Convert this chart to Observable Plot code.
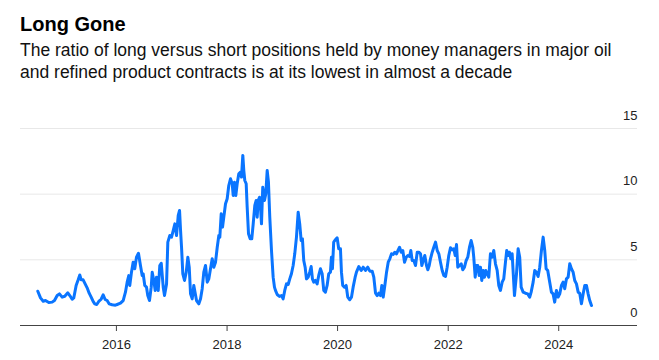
<!DOCTYPE html>
<html>
<head>
<meta charset="utf-8">
<script src="https://cdn.jsdelivr.net/npm/d3@7"></script>
<script src="https://cdn.jsdelivr.net/npm/@observablehq/plot@0.6"></script>
<style>
  html, body { margin: 0; padding: 0; background: #fff; }
  body { width: 659px; height: 360px; position: relative; overflow: hidden; font-family: "Liberation Sans", Arial, sans-serif; }
  #title { position: absolute; left: 20px; top: 13px; font-size: 20px; line-height: 22px; font-weight: bold; color: #000; }
  #subtitle { position: absolute; left: 20px; top: 40px; font-size: 17.5px; line-height: 21.5px; color: #111; white-space: nowrap; }
  #chart { position: absolute; left: 0; top: 90px; }
</style>
</head>
<body>
<div id="title">Long Gone</div>
<div id="subtitle">The ratio of long versus short positions held by money managers in major oil<br>and refined product contracts is at its lowest in almost a decade</div>
<div id="chart"></div>
<script>
// Decimal-year dates of observations
const years = [
2014.577,2014.626,2014.675,2014.716,2014.776,2014.837,2014.879,2014.928,2014.969,2015.018,
2015.065,2015.120,2015.156,2015.199,2015.228,2015.271,2015.308,2015.337,2015.362,2015.398,
2015.434,2015.470,2015.507,2015.543,2015.579,2015.608,2015.644,2015.680,2015.724,2015.760,
2015.796,2015.832,2015.868,2015.923,2015.982,2016.013,2016.073,2016.122,2016.163,2016.194,
2016.223,2016.241,2016.272,2016.302,2016.331,2016.362,2016.398,2016.434,2016.465,2016.483,
2016.512,2016.543,2016.566,2016.597,2016.628,2016.646,2016.675,2016.700,2016.724,2016.755,
2016.783,2016.809,2016.845,2016.868,2016.905,2016.928,2016.964,2016.995,2017.026,2017.055,
2017.085,2017.116,2017.140,2017.158,2017.176,2017.199,2017.230,2017.261,2017.290,2017.315,
2017.339,2017.369,2017.398,2017.447,2017.489,2017.520,2017.550,2017.579,2017.610,2017.641,
2017.670,2017.700,2017.731,2017.760,2017.791,2017.822,2017.851,2017.869,2017.894,2017.918,
2017.941,2017.972,2018.002,2018.031,2018.062,2018.093,2018.111,2018.135,2018.158,2018.183,
2018.212,2018.243,2018.261,2018.285,2018.303,2018.321,2018.346,2018.364,2018.388,2018.418,
2018.447,2018.473,2018.502,2018.527,2018.545,2018.563,2018.587,2018.605,2018.623,2018.646,
2018.677,2018.701,2018.726,2018.749,2018.773,2018.804,2018.834,2018.858,2018.876,2018.907,
2018.948,2018.985,2019.015,2019.044,2019.075,2019.106,2019.135,2019.165,2019.196,2019.225,
2019.256,2019.287,2019.315,2019.341,2019.364,2019.388,2019.413,2019.437,2019.467,2019.496,
2019.522,2019.545,2019.569,2019.599,2019.630,2019.659,2019.690,2019.721,2019.750,2019.780,
2019.811,2019.840,2019.871,2019.889,2019.907,2019.930,2019.961,2019.992,2020.021,2020.052,
2020.070,2020.093,2020.124,2020.155,2020.184,2020.220,2020.251,2020.281,2020.317,2020.341,
2020.383,2020.426,2020.462,2020.504,2020.545,2020.582,2020.625,2020.654,2020.685,2020.715,
2020.744,2020.775,2020.799,2020.824,2020.853,2020.884,2020.914,2020.943,2020.974,2021.005,
2021.034,2021.064,2021.095,2021.119,2021.149,2021.178,2021.209,2021.240,2021.269,2021.300,
2021.323,2021.348,2021.377,2021.408,2021.439,2021.468,2021.499,2021.522,2021.547,2021.576,
2021.607,2021.631,2021.656,2021.679,2021.710,2021.739,2021.770,2021.801,2021.830,2021.860,
2021.891,2021.920,2021.951,2021.981,2022.010,2022.041,2022.072,2022.101,2022.126,2022.150,
2022.173,2022.204,2022.235,2022.264,2022.294,2022.325,2022.354,2022.385,2022.415,2022.444,
2022.462,2022.488,2022.511,2022.535,2022.560,2022.584,2022.607,2022.632,2022.656,2022.680,
2022.705,2022.734,2022.764,2022.795,2022.824,2022.855,2022.886,2022.915,2022.945,2022.976,
2023.005,2023.036,2023.059,2023.085,2023.108,2023.132,2023.157,2023.199,2023.235,2023.265,
2023.294,2023.320,2023.356,2023.397,2023.439,2023.475,2023.501,2023.537,2023.566,2023.596,
2023.627,2023.656,2023.687,2023.718,2023.747,2023.772,2023.801,2023.837,2023.868,2023.898,
2023.927,2023.958,2023.989,2024.018,2024.049,2024.079,2024.108,2024.139,2024.170,2024.199,
2024.229,2024.260,2024.289,2024.320,2024.351,2024.379,2024.410,2024.441,2024.470,2024.501,
2024.531,2024.560,2024.591
];
// Long/short ratio values
const ratios = [
2.61,2.10,1.85,1.90,1.75,1.78,1.90,2.28,2.41,2.16,
2.23,2.49,2.28,2.00,2.10,3.05,3.48,3.85,3.48,3.48,
3.17,2.87,2.46,2.16,1.83,1.65,1.60,1.83,2.00,2.34,
1.98,1.90,1.65,1.58,1.55,1.60,1.70,1.90,2.54,3.30,
3.80,3.05,4.06,4.82,4.32,5.20,5.50,4.57,3.80,3.94,
3.05,2.92,2.28,1.90,2.92,4.06,3.43,2.67,3.68,2.67,
4.57,4.74,2.92,2.28,3.17,6.35,6.85,6.73,7.24,7.74,
6.85,8.38,8.76,7.24,5.96,3.94,3.43,4.06,5.20,4.44,
2.41,2.03,3.05,1.90,1.65,2.03,2.80,4.06,4.57,3.30,
3.55,4.32,5.08,4.44,4.82,5.96,6.85,6.73,8.50,7.49,
8.25,9.27,9.65,10.66,11.17,10.79,9.90,10.91,9.90,10.79,
11.55,11.68,11.30,12.95,11.80,11.04,10.79,9.01,6.98,6.60,
6.60,7.74,9.14,9.52,8.25,9.52,9.77,9.01,7.74,10.53,
9.52,10.03,11.80,10.91,8.25,5.71,3.68,2.92,2.67,2.36,
2.21,2.28,2.03,2.67,3.17,3.12,3.55,3.94,4.57,5.46,
6.73,8.63,7.74,6.47,6.60,4.95,4.44,3.55,3.68,4.06,
4.49,3.55,3.30,3.43,3.17,3.81,4.32,3.94,2.67,2.54,
3.05,3.94,4.06,5.20,4.32,6.35,6.53,6.68,5.84,5.84,
4.06,3.05,2.92,3.05,2.16,1.96,2.16,2.92,3.68,4.06,
4.49,4.19,4.44,4.19,4.44,4.14,4.14,3.68,2.46,2.28,
2.46,2.28,3.05,2.16,3.05,4.06,4.82,5.08,5.46,5.41,
5.58,5.46,5.76,5.96,5.58,5.71,4.82,5.20,5.33,5.25,
5.71,4.95,4.95,4.57,5.58,5.58,5.46,4.57,4.95,5.33,
4.57,4.24,4.57,5.08,5.58,5.96,6.35,5.71,5.46,4.82,
4.19,3.81,3.73,4.44,5.33,5.92,5.76,5.84,5.33,6.17,
4.44,4.57,4.70,4.24,4.44,4.95,5.20,5.96,6.47,5.96,
5.20,3.68,4.57,4.57,3.81,4.44,3.43,4.19,3.68,4.19,
3.94,3.68,5.46,5.20,5.71,4.70,4.19,3.05,2.67,3.30,
3.55,4.82,5.71,5.33,5.58,5.08,5.46,2.28,3.90,5.84,
5.20,2.92,2.54,2.46,2.41,2.16,2.54,3.30,4.19,4.06,
3.73,4.44,5.71,6.73,5.71,4.32,4.19,3.30,2.54,2.41,
1.78,2.67,2.16,2.41,3.05,3.30,2.80,3.55,3.68,4.70,
4.32,4.06,3.43,3.17,2.54,2.46,1.65,2.41,3.05,3.05,
2.41,1.90,1.52
];
const yTicks = [0, 5, 10, 15];
const xTickYears = [2016, 2018, 2020, 2022, 2024];
const xDomainYears = [2014.264, 2025.423];

function decToDate(y) {
  const yr = Math.floor(y);
  const a = Date.UTC(yr, 0, 1), b = Date.UTC(yr + 1, 0, 1);
  return new Date(a + (y - yr) * (b - a));
}

const data = years.map((y, i) => ({date: decToDate(y), value: ratios[i]}));
const xTicks = xTickYears.map(y => new Date(Date.UTC(y, 0, 1)));

const chart = Plot.plot({
  width: 659,
  height: 270,
  marginTop: 38,
  marginBottom: 35,
  marginLeft: 20,
  marginRight: 22,
  style: {fontFamily: "Liberation Sans, Arial, sans-serif", fontSize: "13px", color: "#222", background: "transparent"},
  x: {type: "utc", domain: xDomainYears.map(decToDate), label: null},
  y: {domain: [0, 15], label: null},
  marks: [
    Plot.gridY(yTicks.filter(d => d > 0), {stroke: "#e8e8e8", strokeOpacity: 1, strokeWidth: 1}),
    Plot.axisY(yTicks, {anchor: "right", tickSize: 0, tickPadding: 0, textAnchor: "end", dy: -13, fontSize: 13, fill: "#222", label: null}),
    Plot.axisX(xTicks, {tickSize: 6, tickPadding: 8, tickFormat: d3.utcFormat("%Y"), fontSize: 13, fill: "#222", stroke: "#444", label: null}),
    Plot.ruleY([0], {stroke: "#444", strokeWidth: 1.2}),
    Plot.line(data, {x: "date", y: "value", stroke: "#0a75ff", strokeWidth: 3, strokeLinejoin: "round", strokeLinecap: "round"})
  ]
});
document.getElementById("chart").appendChild(chart);
</script>
</body>
</html>
